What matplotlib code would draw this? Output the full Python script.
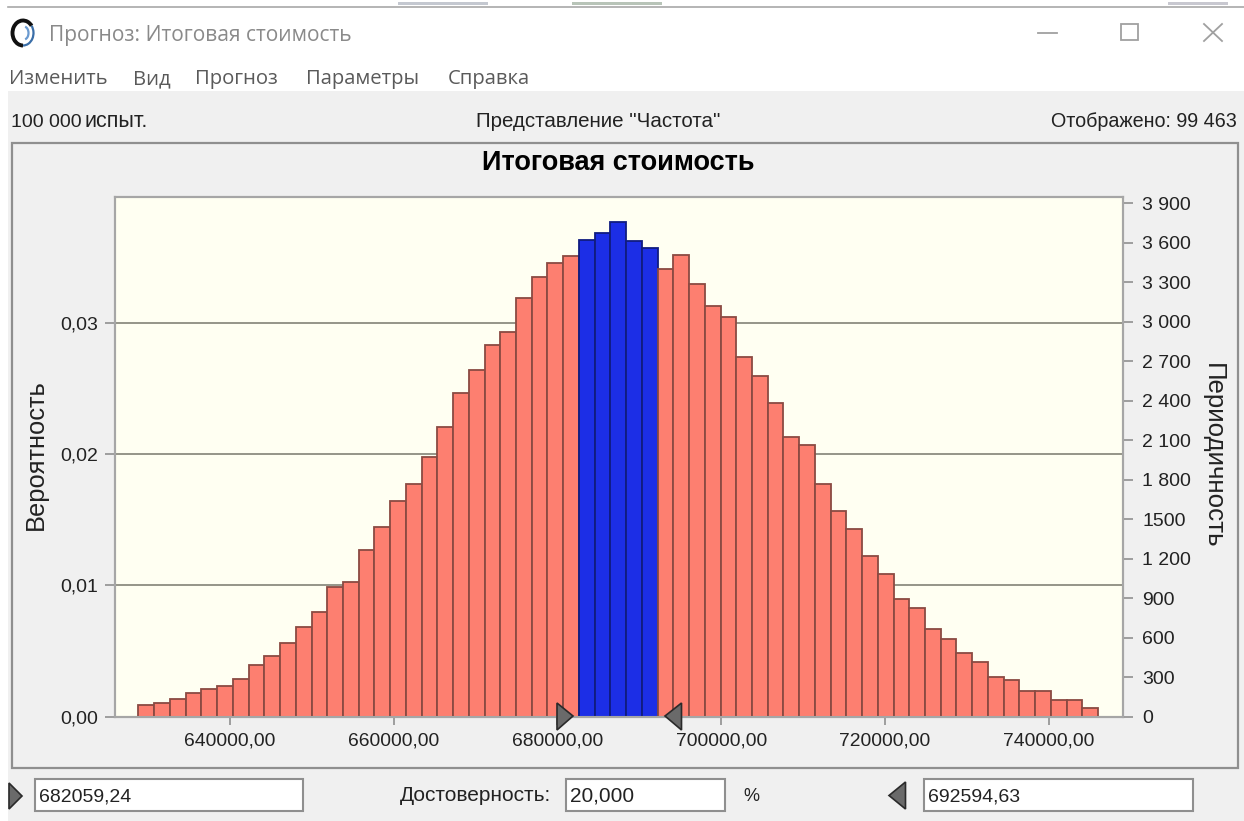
import numpy as np
import matplotlib
matplotlib.use('Agg')
import matplotlib.pyplot as plt
from matplotlib.patches import Rectangle, Polygon, Arc

# frequency of each bin
freq_left = [89, 106, 132, 183, 210, 236, 287, 393, 459, 563, 682, 798, 983, 1021,
             1268, 1440, 1635, 1767, 1975, 2198, 2459, 2631, 2826, 2918, 3179, 3338, 3443, 3496]
freq_mid = [3620, 3675, 3754, 3612, 3557]
freq_right = [3399, 3503, 3283, 3116, 3034, 2733, 2588, 2380, 2122, 2061, 1764, 1559, 1427,
              1217, 1087, 892, 826, 669, 588, 484, 418, 302, 276, 195, 195, 129, 129, 63]
bin_start = 628823
bin_width = 1921.4

x_ticks = [640000, 660000, 680000, 700000, 720000, 740000]
x_labels = ['640000,00', '660000,00', '680000,00', '700000,00', '720000,00', '740000,00']
prob_ticks = [0.0, 0.01, 0.02, 0.03]
prob_labels = ['0,00', '0,01', '0,02', '0,03']
freq_ticks = [0, 300, 600, 900, 1200, 1500, 1800, 2100, 2400, 2700, 3000, 3300, 3600, 3900]
freq_labels = ['0', '300', '600', '900', '1 200', '1500', '1 800', '2 100', '2 400',
               '2 700', '3 000', '3 300', '3 600', '3 900']
menu_items = ['Изменить', 'Вид', 'Прогноз', 'Параметры', 'Справка']
menu_x = [9, 133, 195, 306, 448]

W, H = 1244, 821
GREY = '#f0f0f0'
FRAME = '#8f8f8f'
TXT = '#222222'
SANS = 'Liberation Sans'
UI = 'Open Sans'

fig = plt.figure(figsize=(W / 100, H / 100), dpi=100, facecolor='white')

# window chrome, in pixels
bg = fig.add_axes([0, 0, 1, 1], zorder=0)
bg.set_xlim(0, W)
bg.set_ylim(H, 0)
bg.axis('off')
bg.add_patch(Rectangle((8, 91), W - 8, H - 91, fc=GREY, ec='none'))
bg.plot([8, W], [7, 7], color='#a8a8a8', lw=1.2)
bg.add_patch(Rectangle((398, 2), 90, 3, fc='#c4c8d0', ec='none'))
bg.add_patch(Rectangle((572, 2), 90, 3, fc='#b8c4b8', ec='none'))
bg.add_patch(Rectangle((1168, 2), 60, 3, fc='#c8c8d0', ec='none'))
bg.add_patch(Rectangle((11.5, 143.5), 1226, 624.5, fc=GREY, ec=FRAME, lw=1.6))

# app icon
bg.add_patch(Arc((23, 33), 21, 25, theta1=90, theta2=320, color='#111111', lw=2.8))
bg.add_patch(Arc((23, 33), 21, 25, theta1=-40, theta2=90, color='#3a6ea8', lw=1.6))
bg.add_patch(Arc((24, 33), 9, 13, theta1=-80, theta2=80, color='#6a9ad0', lw=1.6))

bg.text(49, 41, 'Прогноз: Итоговая стоимость', fontsize=15.1, color='#8a8a8a', family=UI)
for name, x in zip(menu_items, menu_x):
    bg.text(x, 84, name, fontsize=14.6, color='#5a5a5a', family=UI)

# window buttons
bg.plot([1038, 1057], [33, 33], color='#a0a0a0', lw=1.3)
bg.add_patch(Rectangle((1121, 24.5), 17, 16, fc='none', ec='#a0a0a0', lw=1.3))
bg.plot([1204, 1222], [24, 41], color='#a0a0a0', lw=1.3)
bg.plot([1204, 1222], [41, 24], color='#a0a0a0', lw=1.3)

bg.text(11, 127, '100 000', fontsize=14, color=TXT, family=SANS)
bg.text(84, 127, 'испыт.', fontsize=15.5, color=TXT, family=SANS)
bg.text(598, 127, 'Представление "Частота"', fontsize=14.8, color=TXT, family=SANS, ha='center')
bg.text(1237, 127, 'Отображено: 99 463', fontsize=14.2, color=TXT, family=SANS, ha='right')
bg.text(618.5, 170.5, 'Итоговая стоимость', fontsize=19.5, color='black', family=SANS,
        weight='bold', ha='center')

# bottom input row
for x0, x1, txt, fs in [(35, 303, '682059,24', 14), (566, 725, '20,000', 15), (924, 1193, '692594,63', 14)]:
    bg.add_patch(Rectangle((x0, 779), x1 - x0, 32, fc='white', ec=FRAME, lw=1.5))
    bg.text(x0 + 4, 801, txt, fontsize=fs, color=TXT, family=SANS)
bg.text(475, 801, 'Достоверность:', fontsize=15, color=TXT, family=SANS, ha='center')
bg.text(751, 801, '%', fontsize=13, color=TXT, family=SANS, ha='center')

# chart
ax = fig.add_axes([115 / W, 1 - 716.7 / H, (1122.7 - 115) / W, (716.7 - 197) / H], zorder=1)
ax.set_facecolor('#fffff2')
ax.set_xlim(625953, 749043)
ax.set_ylim(0, 0.03956)
ax.set_yticks(prob_ticks)
ax.set_yticklabels(prob_labels, fontsize=14, color=TXT, family=SANS)
ax.set_xticks(x_ticks)
ax.set_xticklabels(x_labels, fontsize=13.9, color=TXT, family=SANS)
ax.yaxis.grid(True, color='#8c8c80', lw=1.3)
ax.set_axisbelow(True)
ax.tick_params(axis='y', length=7.2, width=1.2, color=FRAME, pad=5)
ax.tick_params(axis='x', length=6, width=1.2, color=FRAME, pad=5.5)
for s in ax.spines.values():
    s.set_color('#a6a6a6')
    s.set_linewidth(1.5)

ax2 = ax.twinx()
ax2.set_ylim(0, 3947)
ax2.set_yticks(freq_ticks)
ax2.set_yticklabels(freq_labels, fontsize=14, color=TXT, family=SANS)
ax2.tick_params(axis='y', length=7.2, width=1.2, color=FRAME, pad=7)
for s in ax2.spines.values():
    s.set_color('#a6a6a6')
    s.set_linewidth(1.5)

freq = np.array(freq_left + freq_mid + freq_right)
colors = ['#fd7f70'] * len(freq_left) + ['#1c2ee6'] * len(freq_mid) + ['#fd7f70'] * len(freq_right)
edges = ['#8a4a42'] * len(freq_left) + ['#101c80'] * len(freq_mid) + ['#8a4a42'] * len(freq_right)
x = bin_start + bin_width * np.arange(len(freq))
ax2.bar(x, freq, width=bin_width, align='edge', color=colors, edgecolor=edges, linewidth=1.3)

fig.text(36 / W, 1 - 454.5 / H, 'Вероятность', fontsize=18.4, color=TXT, family=SANS,
         rotation=90, ha='center', va='center')
fig.text(1213 / W, 1 - 456 / H, 'Периодичность', fontsize=18.6, color=TXT, family=SANS,
         rotation=270, ha='center', va='center')

# grips go on top of the bars
top = fig.add_axes([0, 0, 1, 1], zorder=5)
top.set_xlim(0, W)
top.set_ylim(H, 0)
top.axis('off')
grip = dict(fc='#6a6a6a', ec='#2a2a2a', lw=1.2)
top.add_patch(Polygon([(557, 703), (573, 716), (557, 730)], **grip))
top.add_patch(Polygon([(681.5, 703), (665, 716), (681.5, 730)], **grip))
top.add_patch(Polygon([(9, 783), (22, 796), (9, 809)], **grip))
top.add_patch(Polygon([(905.5, 782), (889, 795.5), (905.5, 809)], **grip))

plt.savefig('out.png', dpi=100)
